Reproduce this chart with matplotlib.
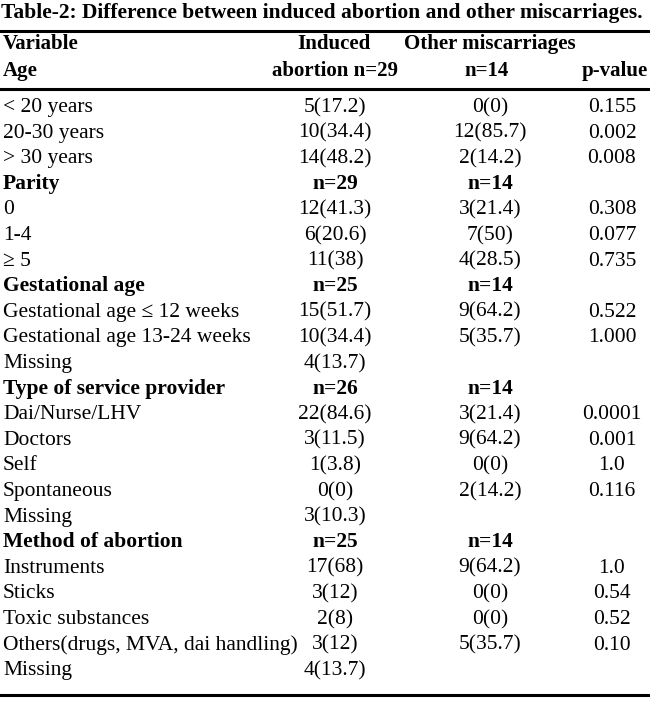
import matplotlib.pyplot as plt

plt.rcParams['font.family'] = ['Liberation Serif', 'DejaVu Serif']

title = "Table-2: Difference between induced abortion and other miscarriages."

labels = ["< 20 years", "20-30 years", "> 30 years",
          "Parity", "0", "1-4", "\u2265 5",
          "Gestational age", "Gestational age \u2264 12 weeks",
          "Gestational age 13-24 weeks", "Missing",
          "Type of service provider", "Dai/Nurse/LHV", "Doctors", "Self",
          "Spontaneous", "Missing",
          "Method of abortion", "Instruments", "Sticks", "Toxic substances",
          "Others(drugs, MVA, dai handling)", "Missing"]
induced = ["5(17.2)", "10(34.4)", "14(48.2)",
           "n=29", "12(41.3)", "6(20.6)", "11(38)",
           "n=25", "15(51.7)", "10(34.4)", "4(13.7)",
           "n=26", "22(84.6)", "3(11.5)", "1(3.8)", "0(0)", "3(10.3)",
           "n=25", "17(68)", "3(12)", "2(8)", "3(12)", "4(13.7)"]
other = ["0(0)", "12(85.7)", "2(14.2)",
         "n=14", "3(21.4)", "7(50)", "4(28.5)",
         "n=14", "9(64.2)", "5(35.7)", "",
         "n=14", "3(21.4)", "9(64.2)", "0(0)", "2(14.2)", "",
         "n=14", "9(64.2)", "0(0)", "0(0)", "5(35.7)", ""]
pvals = ["0.155", "0.002", "0.008",
         "", "0.308", "0.077", "0.735",
         "", "0.522", "1.000", "",
         "", "0.0001", "0.001", "1.0", "0.116", "",
         "", "1.0", "0.54", "0.52", "0.10", ""]
section_rows = {"Parity", "Gestational age", "Type of service provider",
                "Method of abortion"}

W, H = 650, 707
fig = plt.figure(figsize=(W / 100, H / 100), dpi=100)
ax = fig.add_axes([0, 0, 1, 1])
ax.set_xlim(0, W)
ax.set_ylim(H, 0)
ax.axis('off')

fs = 15.5
ax.text(1, 18, title, fontsize=fs, fontweight='bold', va='baseline', ha='left')
ax.plot([0, W], [31, 31], color='black', lw=2.2)

# header
hd = dict(fontsize=15, fontweight='bold', va='baseline')
ax.text(3, 49, "Variable", **hd)
ax.text(3, 76, "Age", **hd)
ax.text(334, 49, "Induced", ha='center', **hd)
ax.text(335, 76, "abortion n=29", ha='center', **hd)
ax.text(490, 49, "Other miscarriages", ha='center', **hd)
ax.text(487, 76, "n=14", ha='center', **hd)
ax.text(648, 76, "p-value", ha='right', **hd)
ax.plot([0, W], [89, 89], color='black', lw=2.2)

y0, dy = 112, 25.6
for i, lab in enumerate(labels):
    y = y0 + i * dy
    bold = 'bold' if lab in section_rows else 'normal'
    ax.text(3, y, lab, fontsize=fs, va='baseline', fontweight=bold)
    ax.text(335, y, induced[i], fontsize=fs, va='baseline', ha='center',
            fontweight=bold)
    ax.text(490, y, other[i], fontsize=fs, va='baseline', ha='center',
            fontweight=bold)
    ax.text(612, y, pvals[i], fontsize=fs, va='baseline', ha='center')

ax.plot([0, W], [695, 695], color='black', lw=2.2)

plt.savefig("out.png", dpi=100)
